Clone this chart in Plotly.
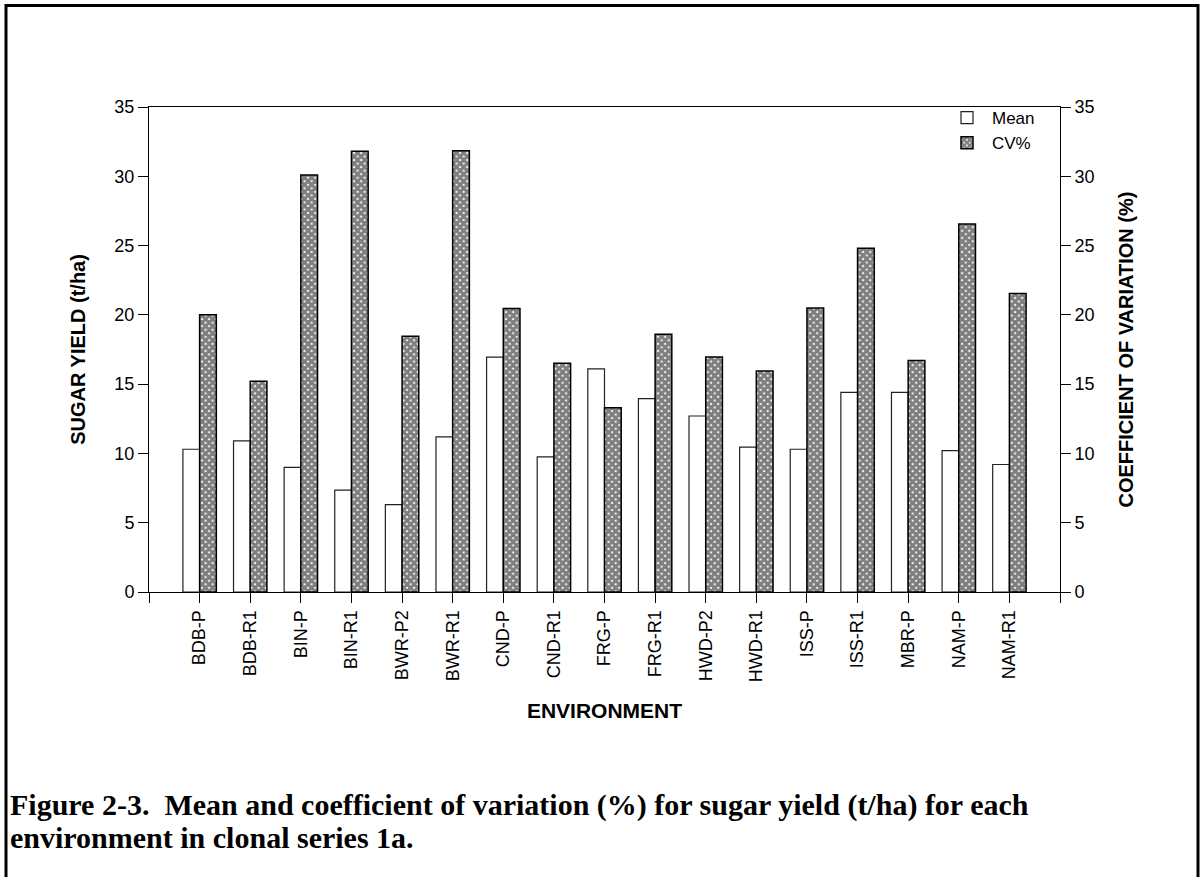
import plotly.graph_objects as go

# Environments in clonal series 1a
environments = ["BDB-P", "BDB-R1", "BIN-P", "BIN-R1", "BWR-P2", "BWR-R1", "CND-P",
                "CND-R1", "FRG-P", "FRG-R1", "HWD-P2", "HWD-R1", "ISS-P", "ISS-R1",
                "MBR-P", "NAM-P", "NAM-R1"]
# Mean sugar yield (t/ha)
mean_yield = [10.3, 10.9, 9.0, 7.35, 6.3, 11.2, 16.95, 9.75, 16.1, 13.95, 12.7,
              10.45, 10.3, 14.4, 14.4, 10.2, 9.2]
# Coefficient of variation (%)
cv_pct = [20.0, 15.2, 30.1, 31.8, 18.45, 31.85, 20.45, 16.5, 13.3, 18.6, 16.95,
          15.95, 20.5, 24.8, 16.7, 26.55, 21.55]
y_ticks = [0, 5, 10, 15, 20, 25, 30, 35]

W, H = 1200, 877
L, R, T, B = 149, 140, 107, 285
n = len(environments)
pos = list(range(1, n + 1))
bar_w = 0.33

SANS = "Liberation Sans, Arial, sans-serif"
SERIF = "Liberation Serif, Times New Roman, serif"

fig = go.Figure()
fig.add_trace(go.Bar(
    x=pos, y=mean_yield, name="Mean", width=bar_w, offset=-bar_w,
    marker=dict(color="white", line=dict(color="#222", width=1.2)),
    yaxis="y",
))
fig.add_trace(go.Bar(
    x=pos, y=cv_pct, name="CV%", width=bar_w, offset=0,
    marker=dict(color="white", line=dict(color="black", width=1.5),
                pattern=dict(shape="x", size=5, solidity=0.85,
                             fgcolor="black", bgcolor="white")),
    yaxis="y2",
))

tick_font = dict(family=SANS, size=18, color="black")
title_font = dict(family=SANS, size=20, color="black", weight="bold")

pw, ph = W - L - R, H - T - B
def px_x(x):
    return (x - L) / pw
def px_y(y):
    return (H - B - y) / ph

fig.update_layout(
    width=W, height=H,
    margin=dict(l=L, r=R, t=T, b=B),
    paper_bgcolor="white", plot_bgcolor="white",
    barmode="overlay",
    font=dict(family=SANS, color="black"),
    xaxis=dict(
        range=[0, n + 1], tickmode="array",
        tickvals=list(range(0, n + 2)),
        ticktext=[""] + environments + [""],
        tickangle=-90, ticks="outside", ticklen=10, tickcolor="black", tickwidth=1,
        tickfont=tick_font, showline=True, linecolor="black", linewidth=1,
        mirror=True, showgrid=False, zeroline=False,
        title=dict(text="ENVIRONMENT", font=dict(family=SANS, size=21, color="black",
                                                 weight="bold"), standoff=22),
    ),
    yaxis=dict(
        range=[0, 35], tickmode="array", tickvals=y_ticks,
        ticks="outside", ticklen=10, tickcolor="black", tickwidth=1,
        tickfont=tick_font, showline=True, linecolor="black", linewidth=1,
        showgrid=False, zeroline=False,
        title=dict(text="SUGAR YIELD (t/ha)", font=title_font, standoff=23),
    ),
    yaxis2=dict(
        range=[0, 35], tickmode="array", tickvals=y_ticks, overlaying="y", side="right",
        ticks="outside", ticklen=10, tickcolor="black", tickwidth=1,
        tickfont=tick_font, showline=True, linecolor="black", linewidth=1,
        showgrid=False, zeroline=False,
        title=dict(text="COEFFICIENT OF VARIATION (%)", font=title_font, standoff=25),
    ),
    legend=dict(
        x=px_x(942), y=px_y(100), xanchor="left", yanchor="top",
        bgcolor="rgba(0,0,0,0)", font=dict(family=SANS, size=17, color="black"),
        tracegroupgap=0, itemwidth=40,
    ),
    showlegend=True,
)

# Page frame around figure and caption
fig.add_shape(type="rect", xref="paper", yref="paper",
              x0=px_x(6), x1=px_x(1198), y0=px_y(885), y1=px_y(5.5),
              line=dict(color="black", width=3), fillcolor="rgba(0,0,0,0)", layer="above")

caption_lines = [
    "Figure 2-3.\u00a0 Mean and coefficient of variation (%) for sugar yield (t/ha) for each",
    "environment in clonal series 1a.",
]
for i, line in enumerate(caption_lines):
    fig.add_annotation(
        text=line, xref="paper", yref="paper",
        x=px_x(8), y=px_y(805 + 32 * i), xanchor="left", yanchor="middle",
        showarrow=False, font=dict(family=SERIF, size=30, color="black", weight="bold"),
    )

fig.write_html("out.html")
